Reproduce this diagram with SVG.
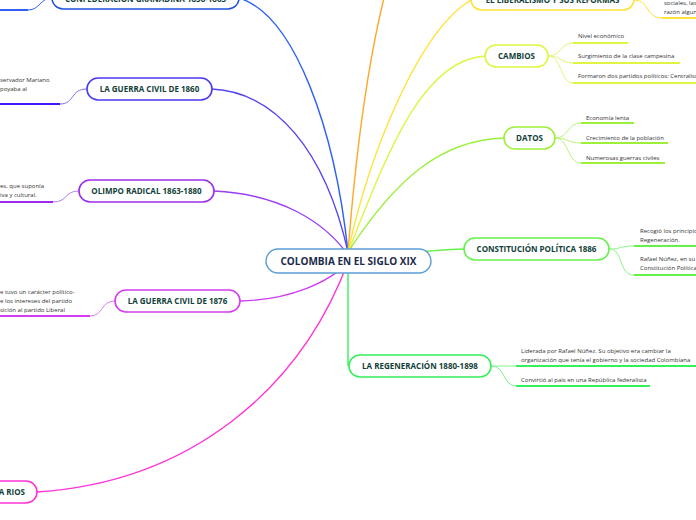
<svg xmlns="http://www.w3.org/2000/svg" width="696" height="520" viewBox="0 0 696 520">
<style>
.n{fill:#fff;stroke-width:1.6}
.t{font-family:"Open Sans","Noto Sans","DejaVu Sans",sans-serif;font-weight:bold;font-size:8px;fill:#123f3a;text-anchor:middle}
.s{font-family:"Open Sans","Noto Sans","DejaVu Sans",sans-serif;font-size:6px;fill:#333}
.c{fill:none;stroke-width:1.4}
.u{fill:none;stroke-width:1}
.ul{stroke-width:2}
</style>
<rect width="696" height="520" fill="#fff"/>
<g id="connectors">
<path class="c" stroke="#2f62f2" d="M348,252 C335,130 295,15 239,-2"/>
<path class="c" stroke="#5544ee" d="M212,89 C275,92 325,150 348,252"/>
<path class="c" stroke="#9a3cf0" d="M214,191 C280,194 325,222 348,255"/>
<path class="c" stroke="#cf3ff0" d="M240,301 C290,300 330,282 348,262"/>
<path class="c" stroke="#ff33d6" d="M37,492 C190,482 300,390 348,262"/>
<path class="c" stroke="#ffa726" d="M348,252 C356,150 368,60 386,-10"/>
<path class="c" stroke="#ffe23a" d="M348,252 C370,150 420,30 471,0"/>
<path class="c" stroke="#dff542" d="M348,252 C385,160 420,60 485,56"/>
<path class="c" stroke="#9cf03a" d="M348,252 C395,180 440,140 504,138"/>
<path class="c" stroke="#66f04a" d="M348,261 C400,255 430,249 464,249"/>
<path class="c" stroke="#35f05a" d="M348,261 L348,366"/>
<path class="u" stroke="#2f62f2" d="M52,-2 C40,-2 40,10 28,10"/>
<path class="u ul" stroke="#2f62f2" d="M28,10 L0,10"/>
<path class="u" stroke="#7a6ff0" d="M87,89 C70,89 75,104 60,104"/>
<path class="u ul" stroke="#3a1aff" d="M60,104 L0,104"/>
<path class="u" stroke="#b27cf5" d="M79,191 C64,191 68,202 53,202"/>
<path class="u ul" stroke="#9a2cf0" d="M53,202 L0,202"/>
<path class="u" stroke="#e07cf5" d="M115,301 C100,301 104,316 90,316"/>
<path class="u ul" stroke="#d63cf0" d="M90,316 L0,316"/>
<path class="u" stroke="#ffe23a" d="M634,0 C650,0 645,18 662,18"/>
<path class="u ul" stroke="#ffe23a" d="M662,18 L696,18"/>
<path class="u" stroke="#e5f57a" d="M548,56 C562,56 560,43 573,43"/>
<path class="u" stroke="#e5f57a" d="M548,56 C562,56 560,63 573,63"/>
<path class="u" stroke="#e5f57a" d="M548,56 C562,56 560,83 573,83"/>
<path class="u ul" stroke="#dff542" d="M573,43 L628,43 M573,63 L680,63 M573,83 L696,83"/>
<path class="u" stroke="#b8f57a" d="M555,138 C569,138 567,123 581,123"/>
<path class="u" stroke="#b8f57a" d="M555,138 C569,138 567,143 581,143"/>
<path class="u" stroke="#b8f57a" d="M555,138 C569,138 567,163 581,163"/>
<path class="u ul" stroke="#9cf03a" d="M581,123 L634,123 M581,143 L668,143 M581,163 L665,163"/>
<path class="u" stroke="#8ef58a" d="M609,249 C622,249 620,246 634,246"/>
<path class="u" stroke="#8ef58a" d="M609,249 C624,249 618,275 634,275"/>
<path class="u ul" stroke="#66f04a" d="M634,246 L696,246 M634,275 L696,275"/>
<path class="u" stroke="#7af590" d="M491,366 C503,366 503,366 516,366"/>
<path class="u" stroke="#7af590" d="M491,366 C506,366 502,386 517,386"/>
<path class="u ul" stroke="#35f05a" d="M516,366 L696,366 M516,386 L650,386"/>
</g>
<g id="central">
<rect x="266" y="249" width="165" height="24" rx="12" fill="#fff" stroke="#5a9fd6" stroke-width="1.4"/>
<text x="348.5" y="264.5" class="t" style="font-size:10px;fill:#1b2a4a">COLOMBIA EN EL SIGLO XIX</text>
</g>
<g id="n-confederacion">
<rect class="n" x="52" y="-13" width="187" height="22" rx="11" stroke="#1f4fe0"/>
<text class="t" x="145.5" y="2">CONFEDERACIÓN GRANADINA 1858-1863</text>
</g>
<g id="n-guerra1860">
<rect class="n" x="87" y="78" width="125" height="22" rx="11" stroke="#4a3af0"/>
<text class="t" x="149.5" y="92">LA GUERRA CIVIL DE 1860</text>
<text class="s" x="0" y="82">servador Mariano</text>
<text class="s" x="0" y="91">poyaba al</text>
</g>
<g id="n-olimpo">
<rect class="n" x="79" y="180" width="135" height="22" rx="11" stroke="#9a2cf0"/>
<text class="t" x="146.5" y="194">OLIMPO RADICAL 1863-1880</text>
<text class="s" x="0" y="188">es, que suponía</text>
<text class="s" x="0" y="197">iva y cultural.</text>
</g>
<g id="n-guerra1876">
<rect class="n" x="115" y="290" width="125" height="22" rx="11" stroke="#d63cf0"/>
<text class="t" x="177.5" y="304">LA GUERRA CIVIL DE 1876</text>
<text class="s" x="0" y="294">e tuvo un carácter político-</text>
<text class="s" x="0" y="303">e los intereses del partido</text>
<text class="s" x="0" y="312">sición al partido Liberal</text>
</g>
<g id="n-rios">
<rect class="n" x="-40" y="481" width="77" height="22" rx="11" stroke="#ff33d6"/>
<text class="t" x="25" y="495" style="text-anchor:end">A RIOS</text>
</g>
<g id="n-liberalismo">
<rect class="n" x="471" y="-11" width="163" height="21" rx="10.5" stroke="#ffe23a"/>
<text class="t" x="552.5" y="3">EL LIBERALISMO Y SUS REFORMAS</text>
<text class="s" x="664" y="5">sociales, las</text>
<text class="s" x="664" y="14">razón algun</text>
</g>
<g id="n-cambios">
<rect class="n" x="485" y="45" width="63" height="22" rx="11" stroke="#dff542"/>
<text class="t" x="516.5" y="59">CAMBIOS</text>
<text class="s" x="578" y="38">Nivel económico</text>
<text class="s" x="578" y="58">Surgimiento de la clase campesina</text>
<text class="s" x="578" y="78">Formaron dos partidos políticos: Centralism</text>
</g>
<g id="n-datos">
<rect class="n" x="504" y="127" width="51" height="22" rx="11" stroke="#9cf03a"/>
<text class="t" x="529.5" y="141">DATOS</text>
<text class="s" x="586" y="120">Economía lenta</text>
<text class="s" x="586" y="140">Crecimiento de la población</text>
<text class="s" x="586" y="160">Numerosas guerras civiles</text>
</g>
<g id="n-constitucion">
<rect class="n" x="464" y="238" width="145" height="22" rx="11" stroke="#66f04a"/>
<text class="t" x="536.5" y="252">CONSTITUCIÓN POLÍTICA 1886</text>
<text class="s" x="640" y="233">Recogió los principios</text>
<text class="s" x="640" y="242">Regeneración.</text>
<text class="s" x="640" y="261">Rafael Núñez, en su</text>
<text class="s" x="640" y="270">Constitución Política</text>
</g>
<g id="n-regeneracion">
<rect class="n" x="349" y="355" width="142" height="22" rx="11" stroke="#35f05a"/>
<text class="t" x="420" y="369">LA REGENERACIÓN 1880-1898</text>
<text class="s" x="521" y="353">Liderada por Rafael Núñez. Su objetivo era cambiar la</text>
<text class="s" x="521" y="362">organización que tenía el gobierno y la sociedad Colombiana</text>
<text class="s" x="521" y="382">Convirtió al país en una República federalista</text>
</g>
</svg>
